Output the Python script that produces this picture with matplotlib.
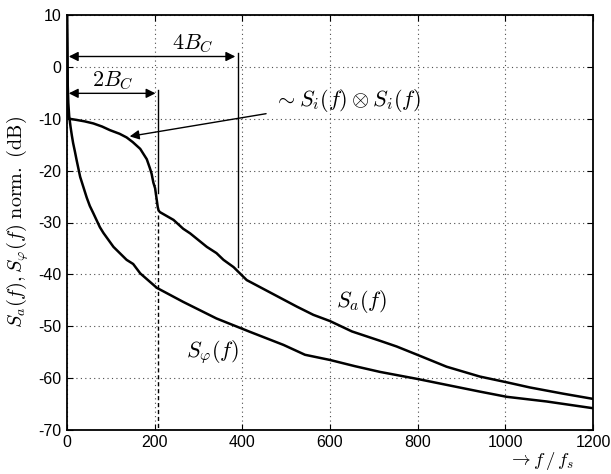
import matplotlib
matplotlib.use("Agg")
import matplotlib.pyplot as plt

plt.rcParams['mathtext.fontset'] = 'cm'
plt.rcParams['axes.unicode_minus'] = False
plt.rcParams['font.family'] = ['Liberation Sans', 'DejaVu Sans']

# S_a(f) curve
sa_f = [0, 2, 5, 20, 40, 60, 80, 98, 120, 136, 150, 167, 182, 189, 193, 197,
        201, 205, 207, 209, 212, 243, 265, 281, 319, 341, 357, 380, 410, 448,
        486, 524, 562, 600, 650, 714, 752, 802, 866, 942, 1003, 1056, 1132, 1200]
sa_db = [10, -9.5, -10, -10.2, -10.5, -10.9, -11.5, -12.2, -12.9, -13.6, -14.5,
         -15.8, -17.8, -19.5, -20.6, -22.3, -23.4, -25.8, -27, -27.7, -28, -29.5,
         -31.2, -32.1, -34.7, -35.9, -37.2, -38.6, -41.1, -42.8, -44.5, -46.2,
         -47.8, -49, -51, -52.8, -53.9, -55.6, -57.8, -59.7, -60.8, -61.8, -63, -64]

# S_phi(f) curve
sp_f = [0, 1.5, 3, 5, 8, 11, 14, 18, 22, 30, 45, 52, 60, 75, 83, 106, 136, 151,
        167, 205, 265, 341, 418, 494, 543, 600, 657, 714, 802, 866, 942, 1003,
        1094, 1200]
sp_db = [10, -3, -7, -9.5, -11.5, -13.2, -14.7, -16.3, -18, -21.2, -25.2, -26.8,
         -28.2, -30.9, -32.0, -34.7, -37.2, -38, -39.8, -42.6, -45.3, -48.5,
         -51.1, -53.6, -55.5, -56.5, -57.7, -58.8, -60.2, -61.3, -62.6, -63.6,
         -64.5, -65.8]

xticks = [0, 200, 400, 600, 800, 1000, 1200]
yticks = [-70, -60, -50, -40, -30, -20, -10, 0, 10]

bc2 = 208   # 2 B_C marker
bc4 = 390   # 4 B_C marker

fig = plt.figure(figsize=(6.11, 4.74), dpi=100)
ax = fig.add_axes([67/611, 1-430/474, (593-67)/611, (430-15)/474])

ax.plot(sa_f, sa_db, color='black', lw=1.8)
ax.plot(sp_f, sp_db, color='black', lw=1.8)

ax.set_xlim(0, 1200)
ax.set_ylim(-70, 10)
ax.set_xticks(xticks)
ax.set_yticks(yticks)
ax.grid(True, color='0.3', linestyle=(0, (1, 3)), lw=0.8)
ax.tick_params(direction='in', top=True, right=True, length=4, labelsize=11.5,
               width=0.8)
ax.tick_params(axis='x', pad=3.5)
ax.tick_params(axis='y', pad=4)
for s in ax.spines.values():
    s.set_linewidth(1.3)

# vertical markers
ax.plot([bc2, bc2], [-4.5, -24.4], color='black', lw=1.0)
ax.plot([bc2, bc2], [-28.5, -70], color='black', lw=1.0, linestyle=(0, (3, 2)))
ax.plot([bc4, bc4], [2.7, -38.5], color='black', lw=1.0)

arrow_kw = dict(arrowstyle='<|-|>', color='black', lw=1.0, mutation_scale=14,
                shrinkA=0, shrinkB=0)
ax.annotate('', xy=(4, 2), xytext=(384, 2), arrowprops=arrow_kw)
ax.annotate('', xy=(4, -5.1), xytext=(202, -5.1), arrowprops=arrow_kw)
ax.text(288, 4.4, r'$4B_C$', fontsize=16, ha='center', va='center')
ax.text(104, -2.7, r'$2B_C$', fontsize=16, ha='center', va='center')

ax.annotate(r'$\sim S_i(f)\otimes S_i(f)$', xy=(143, -13.4), xytext=(473, -6.4),
            fontsize=16, ha='left', va='center',
            arrowprops=dict(arrowstyle='-|>', color='black', lw=1.0,
                            mutation_scale=14, shrinkA=4, shrinkB=0))

ax.text(671, -45.3, r'$S_a(f)$', fontsize=16, ha='center', va='center')
ax.text(332, -54.9, r'$S_\varphi(f)$', fontsize=16, ha='center', va='center')

ax.set_ylabel(r'$S_a(f), S_\varphi(f)\ \mathrm{norm.\ (dB)}$', fontsize=14.5,
              labelpad=5)
ax.text(0.963, -0.075, r'$\rightarrow f\,/\,f_s$', transform=ax.transAxes,
        fontsize=13.5, ha='right', va='center')

fig.savefig('out.png', dpi=100)
